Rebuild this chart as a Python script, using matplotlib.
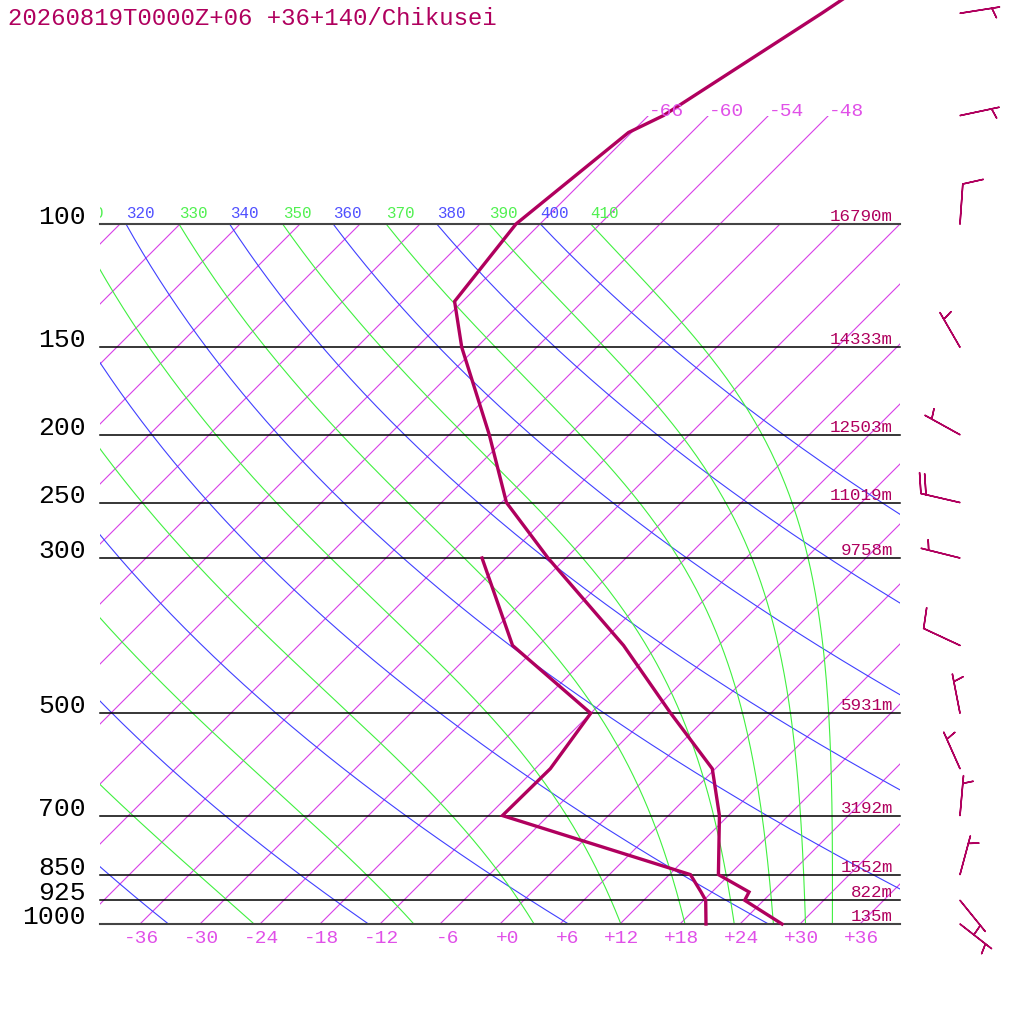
import numpy as np
import matplotlib
matplotlib.use('Agg')
from matplotlib import pyplot as plt
from matplotlib.patches import Rectangle
from matplotlib.transforms import Bbox

title = '20260819T0000Z+06 +36+140/Chikusei'

# sounding: pressure (hPa), temperature and dew point (degC)
pres = [1000, 925, 900, 850, 700, 600, 500, 400, 300, 250, 200, 150, 129, 100, 74, 70, 50, 30]
temp = [28.2, 22.1, 21.7, 16.9, 11.1, 5.7, -4.0, -15.5, -31.8, -41.5, -50.0, -61.5,
        -66.8, -68.4, -66.3, -64.5, -58.9, -51.2]
dew_pres = [1000, 925, 900, 850, 700, 600, 500, 400, 300]
dew = [20.6, 18.2, 16.9, 14.1, -10.6, -10.5, -12.0, -26.6, -38.4]

# labelled pressure levels and their heights
lev_p = [100, 150, 200, 250, 300, 500, 700, 850, 925, 1000]
lev_hgt = ['16790m', '14333m', '12503m', '11019m', '9758m', '5931m', '3192m',
           '1552m', '822m', '135m']

# winds: direction (deg, from), speed (kt)
wind_p = [1000, 925, 850, 700, 600, 500, 400, 300, 250, 200, 150, 100, 70, 50]
wind_dir = [128, 141, 15, 5, 336, 349, 295, 284, 283, 299, 330, 4, 78, 81]
wind_spd = [5, 5, 5, 5, 5, 5, 10, 5, 20, 5, 5, 10, 5, 5]

t_ticks = [-36, -30, -24, -18, -12, -6, 0, 6, 12, 18, 24, 30, 36]
iso_top = [-66, -60, -54, -48]
dry_theta = list(range(240, 401, 20))
moist_thetae = list(range(250, 411, 20))

SKEW = 70.0
PROF = '#b0005e'
ISO = '#d840e8'
ISO_TXT = '#e050e8'
BLUE = '#4040ff'
GREEN = '#40f040'


def skew_x(t, p):
    return np.asarray(t, float) + SKEW * np.log10(1000.0 / np.asarray(p, float))


def thetae_sat(tc, p):
    tk = tc + 273.15
    es = 6.112 * np.exp(17.67 * tc / (tc + 243.5))
    r = 1000 * 0.622 * es / (p - es)
    return tk * (1000 / p) ** (0.2854 * (1 - 0.28e-3 * r)) * \
        np.exp((3.376 / tk - 0.00254) * r * (1 + 0.81e-3 * r))


def moist_line(te, p):
    lo = np.full_like(p, -130.0)
    hi = np.full_like(p, 40.0)
    with np.errstate(all='ignore'):
        for _ in range(60):
            mid = (lo + hi) / 2
            f = thetae_sat(mid, p) > te
            hi = np.where(f, mid, hi)
            lo = np.where(f, lo, mid)
    return (lo + hi) / 2


plt.rcParams['font.family'] = ['Liberation Mono', 'DejaVu Sans Mono']
fig = plt.figure(figsize=(10.24, 10.24), dpi=100)
ax = fig.add_axes([0, 0, 1, 1])
ax.set_yscale('log')
ax.set_xlim(-50, 52.4)
ax.set_ylim(1000 * 10 ** (100 / 700), 1000 * 10 ** (-924 / 700))
ax.axis('off')

box = Rectangle((-40, 100), 80, 900, transform=ax.transData)
box_hi = Rectangle((-40, 70), 80, 930, transform=ax.transData)
txt_clip = Bbox.from_extents(100, 0, 900, 1024)

pp = np.logspace(2, 3, 200)

# isotherms
for t in range(-108, 37, 6):
    if t in iso_top:
        pl = np.array([1000, 70])
        ln, = ax.plot(skew_x([t, t], pl), pl, color=ISO, lw=0.8)
        ln.set_clip_path(box_hi)
        ax.annotate(f'{t}', (skew_x(t, 70), 70), xytext=(0, 0), textcoords='offset points',
                    ha='left', va='baseline', fontsize=14, color=ISO_TXT)
    else:
        pl = np.array([1000, 100])
        ln, = ax.plot(skew_x([t, t], pl), pl, color=ISO, lw=0.8)
        ln.set_clip_path(box)

# dry adiabats
for th in dry_theta:
    tc = th * (pp / 1000) ** 0.2857 - 273.15
    ln, = ax.plot(skew_x(tc, pp), pp, color=BLUE, lw=0.8)
    ln.set_clip_path(box)
    x0 = skew_x(th * 0.1 ** 0.2857 - 273.15, 100)
    a = ax.annotate(f'{th}', (x0, 100), xytext=(0, 4.3), textcoords='offset points',
                    ha='left', va='baseline', fontsize=11.4, color='#5050ff')
    a.set_clip_box(txt_clip)

# pseudo adiabats
for te in moist_thetae:
    tc = moist_line(te, pp)
    ln, = ax.plot(skew_x(tc, pp), pp, color=GREEN, lw=0.8)
    ln.set_clip_path(box)
    x0 = skew_x(tc[0], 100)
    a = ax.annotate(f'{te}', (x0, 100), xytext=(0, 4.3), textcoords='offset points',
                    ha='left', va='baseline', fontsize=11.4, color='#50f050')
    a.set_clip_box(txt_clip)

# pressure levels
for p, h in zip(lev_p, lev_hgt):
    edge = p in (100, 1000)
    ax.plot([-40, 40], [p, p], color='#444444' if edge else 'black', lw=1.5 if edge else 1.1)
    ax.annotate(str(p), (-41.4, p), xytext=(0, 0), textcoords='offset points',
                ha='right', va='baseline', fontsize=19, color='black')
    ax.annotate(h, (39.3, p), xytext=(0, 2.2), textcoords='offset points',
                ha='right', va='baseline', fontsize=12.6, color=PROF)

# temperature ticks
for t in t_ticks:
    lab = f'{t:+d}' if t >= 0 else f'{t}'
    ax.annotate(lab, (t + 1.9, 1000), xytext=(0, -13.5), textcoords='offset points',
                ha='right', va='baseline', fontsize=14, color=ISO_TXT)

# profiles
ax.plot(skew_x(temp, pres), pres, color=PROF, lw=2.4, solid_joinstyle='miter')
ax.plot(skew_x(dew, dew_pres), dew_pres, color=PROF, lw=2.4, solid_joinstyle='miter')

# wind barbs
wd = np.radians(wind_dir)
u = -np.array(wind_spd) * np.sin(wd)
v = -np.array(wind_spd) * np.cos(wd)
ax.barbs(np.full(len(wind_p), 46.0), wind_p, u, v, length=7.6, pivot='tip',
         color=PROF, linewidth=1.1, sizes=dict(height=0.5, width=0.3, spacing=0.13))

fig.text(8 / 1024, 1 - 25 / 1024, title, ha='left', va='baseline', fontsize=17.3, color=PROF)

fig.savefig('out.png', dpi=100)
